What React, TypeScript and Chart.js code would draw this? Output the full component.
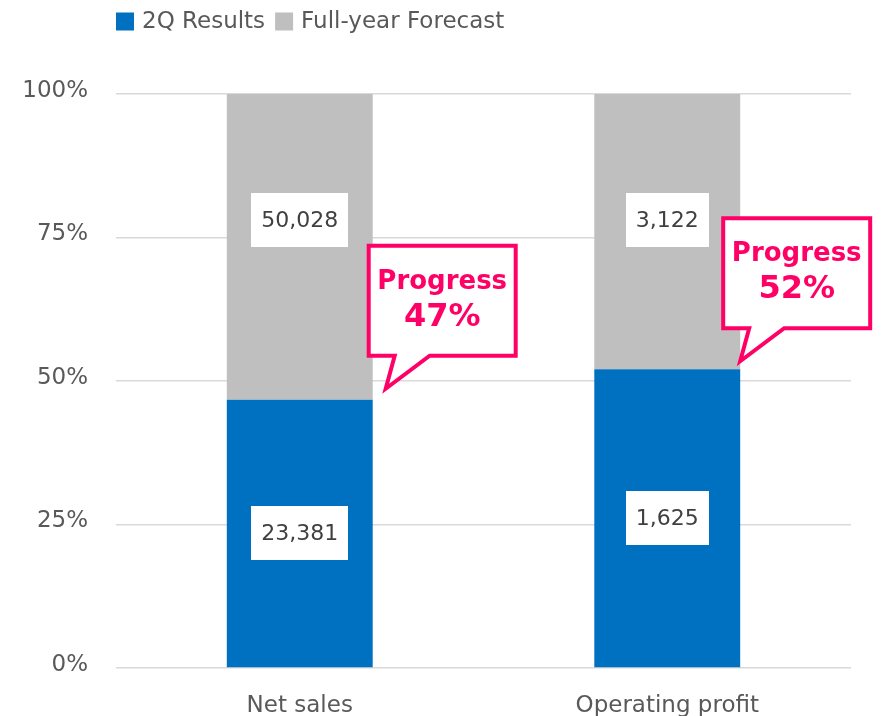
import React, { useEffect, useRef } from "react";
import { Chart, registerables } from "chart.js";

Chart.register(...registerables);

// ---- data ----
const categories = ["Net sales", "Operating profit"];
const seriesNames = ["2Q Results", "Full-year Forecast"];
const results2Q = [23381, 1625];
const fullYearForecast = [50028, 3122];
const yTickValues = [0, 25, 50, 75, 100];

// ---- styling ----
const FONT = "'DejaVu Sans', Verdana, sans-serif";
const BLUE = "#0070C0";
const GRAY = "#BFBFBF";
const PINK = "#FF0066";
const TEXT = "#595959";
const LABEL_TEXT = "#404040";

const progressPct = results2Q.map((r, i) => (r / fullYearForecast[i]) * 100);
const remainderPct = progressPct.map((p) => 100 - p);

const fmt = (n: number) => n.toLocaleString("en-US");

function drawValueBox(ctx: CanvasRenderingContext2D, text: string, cx: number, cy: number) {
  ctx.font = `22px ${FONT}`;
  const w = ctx.measureText(text).width;
  const bw = w + 20;
  const bh = 54;
  ctx.fillStyle = "#FFFFFF";
  ctx.fillRect(Math.round(cx - bw / 2), Math.round(cy - bh / 2), Math.round(bw), bh);
  ctx.fillStyle = LABEL_TEXT;
  ctx.textAlign = "center";
  ctx.textBaseline = "middle";
  ctx.fillText(text, cx, cy + 1);
}

const valueLabelPlugin = {
  id: "valueLabels",
  afterDatasetsDraw(chart: any) {
    const ctx: CanvasRenderingContext2D = chart.ctx;
    const yScale = chart.scales.y;
    const m0 = chart.getDatasetMeta(0);
    const m1 = chart.getDatasetMeta(1);
    const grayLabelAt = 78;
    ctx.save();
    categories.forEach((_, i) => {
      const b0: any = m0.data[i];
      const b1: any = m1.data[i];
      drawValueBox(ctx, fmt(results2Q[i]), b0.x, (b0.y + b0.base) / 2);
      drawValueBox(ctx, fmt(fullYearForecast[i]), b1.x, yScale.getPixelForValue(grayLabelAt));
    });
    ctx.restore();
  },
};

const calloutPlugin = {
  id: "callouts",
  afterDraw(chart: any) {
    const ctx: CanvasRenderingContext2D = chart.ctx;
    const m0 = chart.getDatasetMeta(0);
    const tipDx = [11, -2];
    const tipDy = [-8, -5];
    ctx.save();
    categories.forEach((_, i) => {
      const b0: any = m0.data[i];
      const barRight = b0.x + b0.width / 2;
      const tipX = barRight + tipDx[i];
      const tipY = b0.y + tipDy[i];
      const L = tipX - 17;
      const B = tipY - 34;
      const T = B - 114;
      const W = 151;
      const s = 2;
      ctx.beginPath();
      ctx.moveTo(L + s, T + s);
      ctx.lineTo(L + W - s, T + s);
      ctx.lineTo(L + W - s, B - s);
      ctx.lineTo(L + 63, B - s);
      ctx.lineTo(tipX + 2, tipY - 3);
      ctx.lineTo(L + 28, B - s);
      ctx.lineTo(L + s, B - s);
      ctx.closePath();
      ctx.fillStyle = "#FFFFFF";
      ctx.fill();
      ctx.lineWidth = 4;
      ctx.lineJoin = "miter";
      ctx.strokeStyle = PINK;
      ctx.stroke();

      ctx.fillStyle = PINK;
      ctx.textAlign = "center";
      ctx.textBaseline = "alphabetic";
      ctx.font = `bold 26px ${FONT}`;
      ctx.fillText("Progress", L + W / 2, T + 45);
      ctx.font = `bold 32px ${FONT}`;
      ctx.fillText(`${Math.round(progressPct[i])}%`, L + W / 2, T + 82);
    });
    ctx.restore();
  },
};

const legendPlugin = {
  id: "customLegend",
  afterDraw(chart: any) {
    const ctx: CanvasRenderingContext2D = chart.ctx;
    ctx.save();
    ctx.font = `23px ${FONT}`;
    ctx.textBaseline = "alphabetic";
    ctx.textAlign = "left";
    let x = 116;
    chart.data.datasets.forEach((ds: any) => {
      const box = 18;
      ctx.fillStyle = ds.backgroundColor;
      ctx.fillRect(x, 12.5, box, box);
      x += box + 8;
      ctx.fillStyle = TEXT;
      ctx.fillText(ds.label, x, 28);
      x += ctx.measureText(ds.label).width + 10;
    });
    ctx.restore();
  },
};

export default function App() {
  const ref = useRef<HTMLCanvasElement>(null);

  useEffect(() => {
    if (!ref.current) return;
    Chart.defaults.font.family = FONT;
    Chart.defaults.color = TEXT;
    const chart = new Chart(ref.current, {
      type: "bar",
      data: {
        labels: categories,
        datasets: [
          {
            label: seriesNames[0],
            data: progressPct,
            backgroundColor: BLUE,
            barPercentage: 0.397,
            categoryPercentage: 1,
          },
          {
            label: seriesNames[1],
            data: remainderPct,
            backgroundColor: GRAY,
            barPercentage: 0.397,
            categoryPercentage: 1,
          },
        ],
      },
      options: {
        responsive: false,
        animation: false,
        devicePixelRatio: 1,
        layout: { padding: { top: 94, right: 30, bottom: 0, left: 0 } },
        plugins: {
          legend: { display: false },
          tooltip: { enabled: false },
        },
        scales: {
          x: {
            stacked: true,
            grid: { display: false, drawTicks: false },
            border: { display: false },
            ticks: { font: { size: 23, family: FONT }, color: TEXT, padding: 24 },
            afterFit: (scale: any) => {
              scale.height = 48;
            },
          },
          y: {
            stacked: true,
            min: 0,
            max: 100,
            grid: { color: "#D9D9D9", lineWidth: 1.5, drawTicks: false },
            border: { display: false },
            afterBuildTicks: (scale: any) => {
              scale.ticks = yTickValues.map((v) => ({ value: v }));
            },
            ticks: {
              font: { size: 23, family: FONT },
              color: TEXT,
              padding: 28,
              labelOffset: -3,
              callback: (v: any) => `${v}%`,
            },
            afterFit: (scale: any) => {
              scale.width = 116;
            },
          },
        },
      },
      plugins: [valueLabelPlugin, calloutPlugin, legendPlugin],
    } as any);
    return () => chart.destroy();
  }, []);

  return (
    <div
      style={{
        position: "fixed",
        left: 0,
        top: 0,
        width: 881,
        height: 716,
        overflow: "hidden",
        background: "#FFFFFF",
      }}
    >
      <canvas ref={ref} width={881} height={716} style={{ display: "block", width: 881, height: 716 }} />
    </div>
  );
}
